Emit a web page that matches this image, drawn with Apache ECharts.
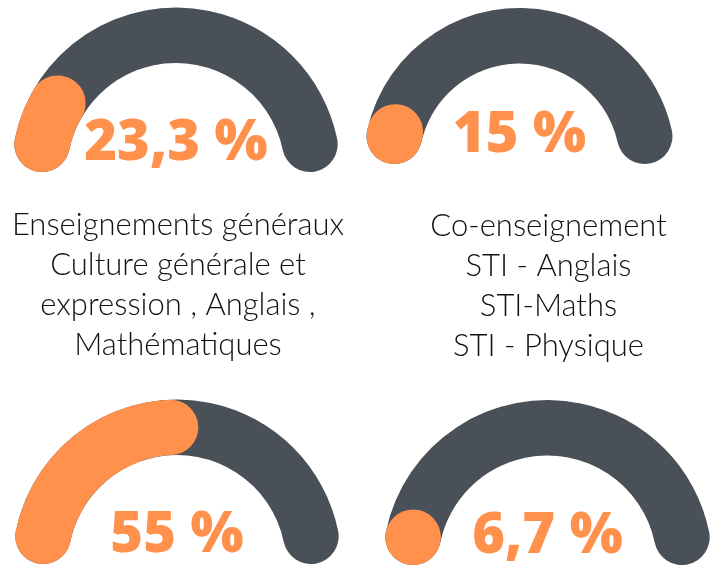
<!DOCTYPE html>
<html>
<head>
<meta charset="utf-8">
<script src="https://cdn.jsdelivr.net/npm/echarts@6/dist/echarts.min.js"></script>
<style>
  html, body { margin: 0; padding: 0; background: #fff; }
  #chart { width: 722px; height: 566px; }
</style>
</head>
<body>
<div id="chart"></div>
<script>
// pourcentages affichés
var values = [23.3, 15, 55, 6.7];
// libellés sous les jauges (vides pour la rangée du bas)
var labels = [
  "Enseignements généraux\nCulture générale et\nexpression , Anglais ,\nMathématiques",
  "Co-enseignement\nSTI - Anglais\nSTI-Maths\nSTI - Physique",
  "",
  ""
];

// position des jauges
var centers = [[176, 172], [519.5, 164], [177, 564], [547.5, 565]];
var radii = [164.5, 156, 164.5, 165];
var labelOffsets = [[2, 113], [29, 122], [0, 0], [0, 0]];
var ringWidth = 55.5;

var orange = "#ff914d";
var gris = "#4a5058";

var chart = echarts.init(document.getElementById("chart"));

var series = values.map(function (v, i) {
  var r = radii[i];
  var mid = r - ringWidth / 2;
  // angle du centre des bouts arrondis pour que l'arc visible fasse 180°
  var cap = (Math.asin(ringWidth / 2 / mid) * 180) / Math.PI;
  return {
    type: "gauge",
    center: centers[i],
    radius: r,
    startAngle: 180 - cap,
    endAngle: cap,
    min: cap / 0.9,
    max: 100,
    pointer: { show: false },
    anchor: { show: false },
    axisTick: { show: false },
    splitLine: { show: false },
    axisLabel: { show: false },
    axisLine: {
      roundCap: true,
      lineStyle: { width: ringWidth, color: [[1, gris]] },
    },
    progress: {
      show: true,
      roundCap: true,
      width: ringWidth,
      itemStyle: { color: orange },
    },
    title: {
      offsetCenter: labelOffsets[i],
      fontFamily: "Lato",
      fontWeight: 300,
      fontSize: 31,
      lineHeight: 40,
      color: "#111",
    },
    detail: {
      offsetCenter: [0, -28],
      fontFamily: "Open Sans",
      fontWeight: 800,
      fontSize: 56,
      color: orange,
      formatter: function (val) {
        return String(val).replace(".", ",") + " %";
      },
    },
    data: [{ value: v, name: labels[i] }],
  };
});

chart.setOption({
  animation: false,
  series: series,
});
</script>
</body>
</html>
